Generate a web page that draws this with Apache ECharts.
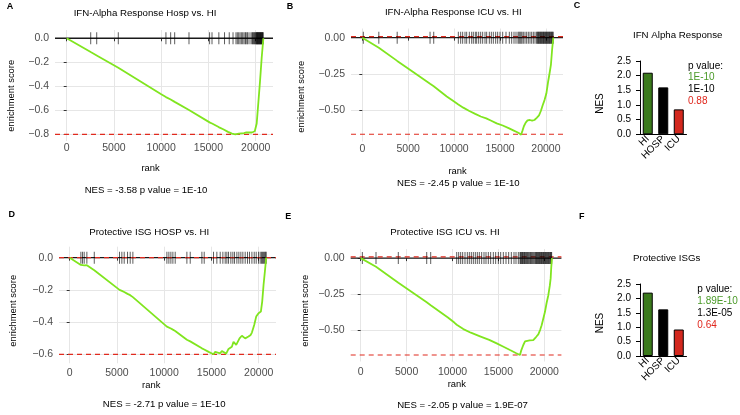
<!DOCTYPE html>
<html><head><meta charset="utf-8">
<script src="https://cdn.jsdelivr.net/npm/echarts@6/dist/echarts.min.js"></script>
<style>html,body{margin:0;padding:0;background:#fff}#c{width:740px;height:415px}</style>
</head><body><div id="c"></div>
<script>
// ---------- DATA ----------
const rankTicks = [0, 5000, 10000, 15000, 20000];
const esTicksA = [0, -0.2, -0.4, -0.6, -0.8];
const esTicksB = [0, -0.25, -0.5];
const esTicksD = [0, -0.2, -0.4, -0.6];
const esTicksE = [0, -0.25, -0.5];

const titleA = 'IFN-Alpha Response Hosp vs. HI';
const titleB = 'IFN-Alpha Response ICU vs. HI';
const titleD = 'Protective ISG HOSP vs. HI';
const titleE = 'Protective ISG ICU vs. HI';
const nesA = 'NES = -3.58 p value = 1E-10';
const nesB = 'NES = -2.45 p value = 1E-10';
const nesD = 'NES = -2.71 p value = 1E-10';
const nesE = 'NES = -2.05 p value = 1.9E-07';

// running enrichment score [rank, ES]
const curveA = [[0,0],[2540,-0.115],[3175,-0.143],[5460,-0.245],[10000,-0.467],[10500,-0.49],[11000,-0.51],[11425,-0.53],[12940,-0.598],[15164,-0.703],[15380,-0.71],[16080,-0.74],[16610,-0.76],[17070,-0.78],[17490,-0.795],[17850,-0.80],[18050,-0.79],[18200,-0.795],[18340,-0.787],[18480,-0.792],[18620,-0.785],[18760,-0.79],[18900,-0.776],[19000,-0.785],[19190,-0.77],[19300,-0.785],[19600,-0.785],[19750,-0.783],[19900,-0.775],[20030,-0.76],[20105,-0.71],[20280,-0.535],[20455,-0.36],[20635,-0.16],[20810,0]];
const curveB = [[0,0],[110,0.007],[1800,-0.07],[3800,-0.16],[5500,-0.235],[7380,-0.318],[7780,-0.335],[9200,-0.405],[10000,-0.44],[10460,-0.46],[11000,-0.482],[11660,-0.505],[12300,-0.525],[12900,-0.543],[13500,-0.556],[14050,-0.572],[14640,-0.59],[15300,-0.605],[16000,-0.625],[16500,-0.64],[17000,-0.655],[17300,-0.668],[17450,-0.64],[17600,-0.61],[17800,-0.585],[18000,-0.57],[18250,-0.567],[18500,-0.572],[18750,-0.567],[19000,-0.552],[19250,-0.535],[19450,-0.505],[19650,-0.465],[19850,-0.43],[20050,-0.385],[20250,-0.30],[20400,-0.245],[20550,-0.185],[20680,-0.08],[20810,0]];
const curveD = [[0,0],[1182,-0.045],[1358,-0.042],[1534,-0.048],[1816,-0.047],[2600,-0.078],[5272,-0.2],[5519,-0.206],[5767,-0.213],[6120,-0.225],[6402,-0.233],[6684,-0.245],[10283,-0.428],[10494,-0.435],[10706,-0.44],[10918,-0.447],[11164,-0.455],[12400,-0.51],[12753,-0.52],[13988,-0.563],[14233,-0.57],[14700,-0.585],[15218,-0.60],[15400,-0.585],[15571,-0.58],[15925,-0.594],[16100,-0.58],[16277,-0.583],[16560,-0.596],[16806,-0.567],[17000,-0.555],[17160,-0.553],[17335,-0.522],[17618,-0.542],[17970,-0.501],[18220,-0.485],[18400,-0.49],[18570,-0.501],[18920,-0.49],[19150,-0.48],[19280,-0.465],[19524,-0.418],[19735,-0.366],[19982,-0.345],[20230,-0.335],[20370,-0.273],[20512,-0.17],[20653,-0.087],[20794,0]];
const curveE = [[0,0],[180,0.008],[1670,-0.06],[4100,-0.17],[7190,-0.305],[7625,-0.325],[9500,-0.41],[10196,-0.445],[10460,-0.46],[11180,-0.49],[12000,-0.515],[13000,-0.54],[14000,-0.565],[14815,-0.589],[15500,-0.61],[16263,-0.635],[16900,-0.655],[17352,-0.669],[17500,-0.635],[17714,-0.60],[17900,-0.575],[18082,-0.566],[18400,-0.568],[18800,-0.566],[19100,-0.545],[19346,-0.527],[19550,-0.495],[19710,-0.463],[19900,-0.415],[20075,-0.371],[20250,-0.31],[20439,-0.256],[20600,-0.19],[20693,-0.14],[20760,-0.06],[20838,0]];

// gene-set hit ranks
const hitsA = [2540,3175,5460,10500,11000,11425,12940,15120,15376,16100,16700,17200,17600,17915,18056,18197,18339,18480,18621,18762,18900,18974,19100,19185,19397,19580,19660,19750,19820,19891,19960,20030,20070,20110,20150,20190,20230,20270,20310,20350,20390,20430,20470,20510,20550,20590,20630,20670,20710,20750,20790];
const hitsB = [110,1800,3800,7380,7780,10461,10715,10933,11187,11369,11660,11914,12095,12313,12458,12676,12894,13111,13366,13547,13838,14056,14273,14527,14745,15000,15291,15654,16017,16271,16525,16743,16961,17070,17179,17287,17396,17541,17723,17904,18086,18268,18449,18631,18812,18994,19060,19130,19200,19270,19340,19400,19470,19540,19600,19670,19740,19800,19870,19940,20000,20070,20140,20200,20270,20340,20400,20470,20540,20600,20670,20740,20790];
const hitsD = [1182,1358,1534,1816,2600,5272,5519,5767,6120,6402,6684,10283,10494,10706,10918,11164,12400,12753,13988,14233,15218,15571,15925,16207,16454,16630,16806,17053,17265,17441,17688,17899,18111,18322,18569,18816,19027,19280,19524,19735,19982,20159,20300,20406,20512,20617,20723,20794];
const hitsE = [180,1667,4097,7190,7625,10457,10672,10890,11107,11362,11616,11833,12051,12269,12487,12704,12922,13177,13431,13649,13903,14157,14448,14702,14993,15247,15537,15828,16118,16409,16699,16917,17171,17352,17420,17490,17560,17630,17700,17780,17850,17920,18000,18080,18160,18250,18330,18420,18500,18600,18700,18800,18900,19000,19070,19140,19210,19280,19350,19420,19490,19560,19630,19700,19770,19840,19910,19980,20050,20120,20190,20260,20330,20400,20470,20540,20610,20680,20750,20800];

// max / min ES reference lines
const esLinesA = [-0.80];
const esLinesB = [0.007, -0.665];
const esLinesD = [0, -0.60];
const esLinesE = [0.008, -0.669];

// bar panels
const barCats = ['HI', 'HOSP', 'ICU'];
const nesIFN = [2.1, 1.6, 0.85];
const nesISG = [2.2, 1.62, 0.92];
const pvalIFN = ['1E-10', '1E-10', '0.88'];
const pvalISG = ['1.89E-10', '1.3E-05', '0.64'];
const barTitleC = 'IFN Alpha Response';
const barTitleF = 'Protective ISGs';

// ---------- STYLE / LAYOUT ----------
const FF = '"Liberation Sans", Arial, Helvetica, sans-serif';
const GREEN_LINE = '#80e51f';
const RED = '#e02a1e';
const barColors = ['#3b7a1c', '#000000', '#d3281e'];
const pColors = ['#4a9a28', '#000000', '#e0271d'];
const minus = s => s.replace('-', '\u2212');

const panels = [
  {curve: curveA, hits: hitsA, ticks: esTicksA, dec: 1, lines: esLinesA, xm: 2,
   grid: {left: 55, top: 30, width: 218, height: 111}, xr: [-1238, 21830], yr: [-0.856, 0.069]},
  {curve: curveB, hits: hitsB, ticks: esTicksB, dec: 2, lines: esLinesB, xm: 2,
   grid: {left: 351, top: 28.5, width: 212, height: 113}, xr: [-1231, 21863], yr: [-0.715, 0.063]},
  {curve: curveD, hits: hitsD, ticks: esTicksD, dec: 1, lines: esLinesD, xm: 4.5,
   grid: {left: 59, top: 246.7, width: 217, height: 116.6}, xr: [-1132, 21830], yr: [-0.656, 0.068]},
  {curve: curveE, hits: hitsE, ticks: esTicksE, dec: 2, lines: esLinesE, xm: 5,
   grid: {left: 350.7, top: 249, width: 210.7, height: 112.5}, xr: [-1089, 21863], yr: [-0.714, 0.063]}
];
const bars = [
  {vals: nesIFN, grid: {left: 640, top: 61, width: 46.5, height: 73.3}},
  {vals: nesISG, grid: {left: 640, top: 284, width: 46.5, height: 72}}
];

const grids = [], xAxes = [], yAxes = [], series = [];
// horizontal reference line spanning the axis extent
function hline(i, p, v, z, style) {
  return {type: 'line', xAxisIndex: i, yAxisIndex: i, z: z, silent: true, showSymbol: false,
    symbol: 'none', clip: false, lineStyle: style, emphasis: {disabled: true},
    data: [[p.xr[0], v], [p.xr[1], v]]};
}
panels.forEach((p, i) => {
  grids.push(Object.assign({containLabel: false, outerBoundsMode: 'none'}, p.grid));
  xAxes.push({type: 'value', gridIndex: i, min: p.xr[0], max: p.xr[1],
    axisLine: {show: false},
    axisTick: {show: true, length: 3, lineStyle: {color: '#333', width: 1}, customValues: rankTicks},
    axisLabel: {customValues: rankTicks, fontSize: 10.5, color: '#4d4d4d', margin: p.xm, fontFamily: FF,
      formatter: v => String(Math.round(v))},
    splitLine: {show: true, lineStyle: {color: '#e6e6e6', width: 1}}});
  yAxes.push({type: 'value', gridIndex: i, min: p.yr[0], max: p.yr[1],
    axisLine: {show: false},
    axisTick: {show: true, length: 3, lineStyle: {color: '#333', width: 1}, customValues: p.ticks},
    axisLabel: {customValues: p.ticks, fontSize: 10.5, color: '#4d4d4d', margin: 6, fontFamily: FF,
      formatter: v => minus(Math.abs(v) < 1e-9 ? (0).toFixed(p.dec) : v.toFixed(p.dec))},
    splitLine: {show: true, lineStyle: {color: '#e6e6e6', width: 1}}});
  series.push(hline(i, p, 0, 2, {color: '#1a1a1a', width: 1.4, type: 'solid'}));
  p.lines.forEach(v => series.push(hline(i, p, v, 3, {color: RED, width: 1.2, type: [5, 4]})));
  series.push({type: 'scatter', xAxisIndex: i, yAxisIndex: i, z: 4, silent: true,
    symbol: 'rect', symbolSize: [1, 12], itemStyle: {color: 'rgba(0,0,0,0.8)'},
    data: p.hits.map(r => [r, 0])});
  series.push({type: 'line', xAxisIndex: i, yAxisIndex: i, z: 5, silent: true,
    showSymbol: false, lineStyle: {color: GREEN_LINE, width: 1.8}, data: p.curve});
});
bars.forEach((b, k) => {
  const i = panels.length + k;
  grids.push(Object.assign({containLabel: false, outerBoundsMode: 'none'}, b.grid));
  xAxes.push({type: 'category', gridIndex: i, data: barCats,
    axisLine: {show: true, lineStyle: {color: '#000', width: 1}},
    axisTick: {show: false},
    axisLabel: {rotate: 45, interval: 0, fontSize: 10, color: '#000', margin: 3, fontFamily: FF}});
  yAxes.push({type: 'value', gridIndex: i, min: 0, max: 2.5, interval: 0.5,
    axisLine: {show: true, lineStyle: {color: '#000', width: 1}},
    axisTick: {show: true, length: 4, lineStyle: {color: '#000', width: 1}},
    axisLabel: {fontSize: 10, color: '#000', margin: 9, fontFamily: FF, formatter: v => v.toFixed(1)},
    splitLine: {show: false}});
  series.push({type: 'bar', xAxisIndex: i, yAxisIndex: i, barWidth: 10, silent: true,
    data: b.vals.map((v, j) => ({value: v, itemStyle: {color: barColors[j], borderColor: '#000', borderWidth: 1}}))});
});

function txt(x, y, text, o) {
  o = o || {};
  return {type: 'text', x: x, y: y, rotation: o.rot || 0, silent: true, z: 100,
    style: {text: text, fontFamily: FF, fontSize: o.size || 9.7, fontWeight: o.bold ? 'bold' : 'normal',
      fill: o.color || '#000', align: o.align || 'center', textAlign: o.align || 'center',
      verticalAlign: 'middle', textVerticalAlign: 'middle'}};
}
const R = Math.PI / 2;
const graphics = [
  txt(10, 7, 'A', {bold: true, size: 9}), txt(290, 7, 'B', {bold: true, size: 9}),
  txt(577, 5.5, 'C', {bold: true, size: 9}), txt(11.7, 215, 'D', {bold: true, size: 9}),
  txt(288.3, 216.7, 'E', {bold: true, size: 9}), txt(581.7, 216.7, 'F', {bold: true, size: 9}),
  txt(145, 13.3, titleA), txt(453.3, 12.7, titleB), txt(149.2, 232.3, titleD), txt(445, 232.3, titleE),
  txt(677.7, 35, barTitleC), txt(666.7, 258.3, barTitleF),
  txt(11.7, 95.8, 'enrichment score', {rot: R, size: 9.4}), txt(301.7, 96.7, 'enrichment score', {rot: R, size: 9.4}),
  txt(13.3, 310.8, 'enrichment score', {rot: R, size: 9.4}), txt(305, 310.8, 'enrichment score', {rot: R, size: 9.4}),
  txt(150.5, 168.3, 'rank', {size: 9.4}), txt(457.5, 171, 'rank', {size: 9.4}),
  txt(151.2, 385, 'rank', {size: 9.4}), txt(456.8, 384.3, 'rank', {size: 9.4}),
  txt(146, 190, nesA, {size: 9.6}), txt(458.3, 183.3, nesB, {size: 9.6}),
  txt(164.2, 404, nesD, {size: 9.6}), txt(462.5, 405, nesE, {size: 9.6}),
  txt(600.5, 103.5, 'NES', {rot: R, size: 10}), txt(600.5, 323, 'NES', {rot: R, size: 10}),
  txt(688, 66, 'p value:', {align: 'left', size: 10})
];
pvalIFN.forEach((t, j) => graphics.push(txt(688, 77.7 + j * 11.7, t, {align: 'left', size: 10, color: pColors[j]})));
graphics.push(txt(697.3, 289.5, 'p value:', {align: 'left', size: 10}));
pvalISG.forEach((t, j) => graphics.push(txt(697.3, 301.2 + j * 11.8, t, {align: 'left', size: 10, color: pColors[j]})));

const chart = echarts.init(document.getElementById('c'), null, {renderer: 'canvas'});
chart.setOption({
  animation: false, backgroundColor: '#fff',
  textStyle: {fontFamily: FF},
  grid: grids, xAxis: xAxes, yAxis: yAxes, series: series, graphic: {elements: graphics}
});
</script></body></html>
